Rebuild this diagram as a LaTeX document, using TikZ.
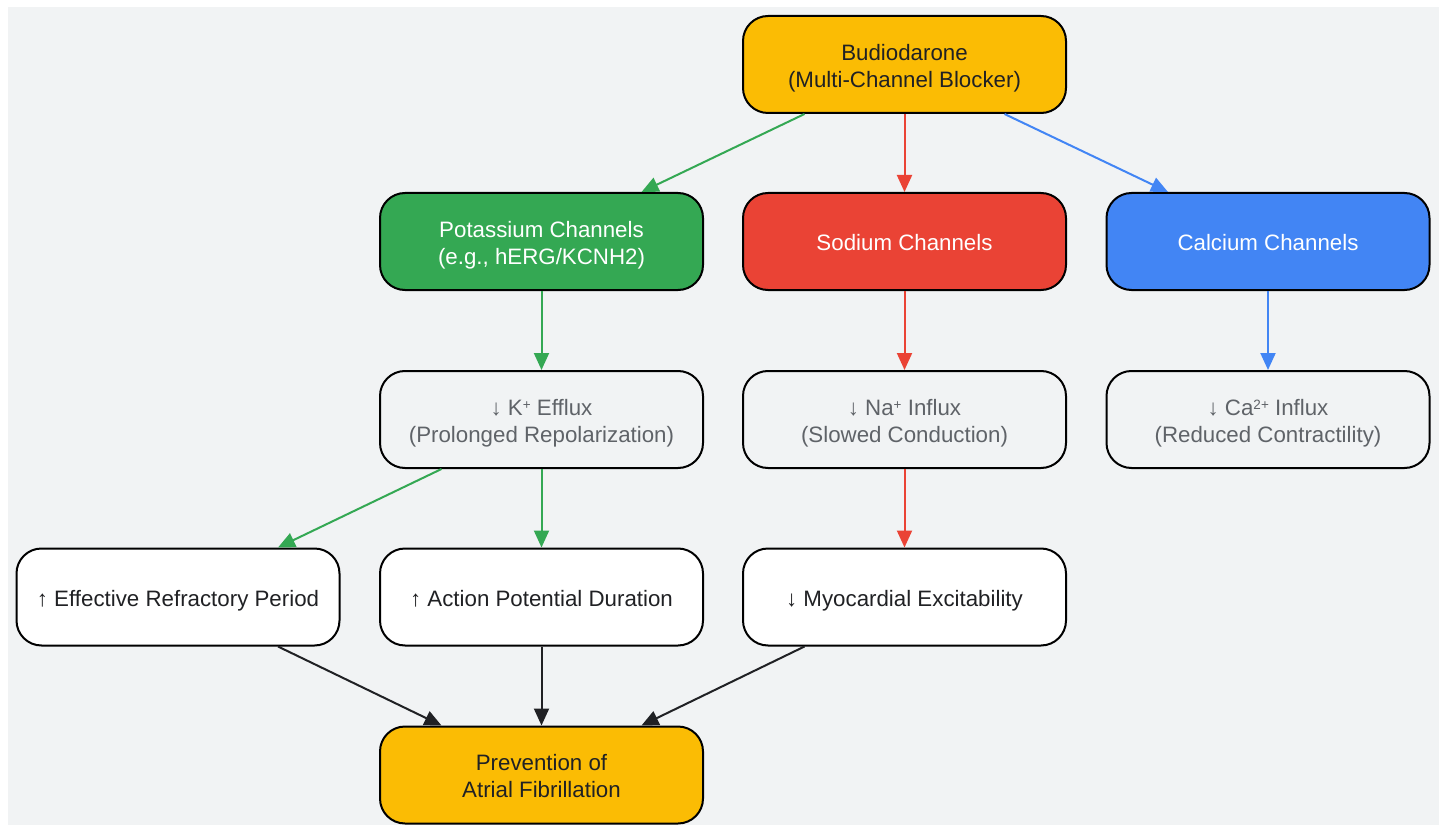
\documentclass[tikz,border=0pt]{standalone}
\usepackage{fontspec}
\setmainfont{Liberation Sans}
\usetikzlibrary{arrows.meta}
\definecolor{bgc}{HTML}{F1F3F4}
\definecolor{yel}{HTML}{FBBC04}
\definecolor{grn}{HTML}{34A853}
\definecolor{rd}{HTML}{EA4335}
\definecolor{blu}{HTML}{4285F4}
\definecolor{txt}{HTML}{202124}
\definecolor{gtxt}{HTML}{5F6368}
\tikzset{
  box/.style={rectangle, rounded corners=25pt, minimum width=323pt, minimum height=97pt,
    draw=black, line width=2pt, inner sep=0pt,
    font=\fontsize{22.3}{27}\selectfont, text=txt},
  yelbox/.style={box, fill=yel},
  grnbox/.style={box, fill=grn, text=white},
  rdbox/.style={box, fill=rd, text=white},
  blubox/.style={box, fill=blu, text=white},
  graybox/.style={box, fill=bgc, text=gtxt},
  whitebox/.style={box, fill=white},
  conn/.style={line width=2pt, -{Triangle[length=17pt,width=15pt]}},
  gconn/.style={conn, draw=grn, fill=grn},
  rconn/.style={conn, draw=rd, fill=rd},
  bconn/.style={conn, draw=blu, fill=blu},
  kconn/.style={conn, draw=txt, fill=txt},
}
\newcommand{\sps}[1]{{\fontsize{13.5}{13.5}\selectfont\raisebox{6.3pt}{#1}}}
\newcommand{\btext}[1]{\raisebox{0pt}[\height][\dimexpr\depth-8pt\relax]{\begin{tabular}{@{}c@{}}#1\end{tabular}}}
\begin{document}
\begin{tikzpicture}[x=1pt,y=-1pt]
\useasboundingbox (0,0) rectangle (1445,826);
\fill[bgc] (8,7) rectangle (1439,825);

\node[yelbox] (b) at (904.5,64.5) {\btext{Budiodarone\\(Multi-Channel Blocker)}};
\node[grnbox] (k) at (541.5,241.5) {\btext{Potassium Channels\\(e.g., hERG/KCNH2)}};
\node[rdbox] (na) at (904.5,241.5) {\btext{Sodium Channels}};
\node[blubox] (ca) at (1268,241.5) {\btext{Calcium Channels}};
\node[graybox] (ke) at (541.5,419.5) {\btext{↓ K\sps{+} Efflux\\(Prolonged Repolarization)}};
\node[graybox] (ni) at (904.5,419.5) {\btext{↓ Na\sps{+} Influx\\(Slowed Conduction)}};
\node[graybox] (ci) at (1268,419.5) {\btext{↓ Ca\sps{2+} Influx\\(Reduced Contractility)}};
\node[whitebox] (erp) at (178,597) {\btext{↑ Effective Refractory Period}};
\node[whitebox] (apd) at (541.5,597) {\btext{↑ Action Potential Duration}};
\node[whitebox] (myo) at (904.5,597) {\btext{↓ Myocardial Excitability}};
\node[yelbox] (prev) at (541.5,775) {\btext{Prevention of\\Atrial Fibrillation}};

\draw[gconn] ([xshift=-100pt]b.south) -- ([xshift=100pt]k.north);
\draw[rconn] (b.south) -- (na.north);
\draw[bconn] ([xshift=100pt]b.south) -- ([xshift=-100pt]ca.north);
\draw[gconn] (k.south) -- (ke.north);
\draw[rconn] (na.south) -- (ni.north);
\draw[bconn] (ca.south) -- (ci.north);
\draw[gconn] ([xshift=-100pt]ke.south) -- ([xshift=100pt]erp.north);
\draw[gconn] (ke.south) -- (apd.north);
\draw[rconn] (ni.south) -- (myo.north);
\draw[kconn] ([xshift=100pt]erp.south) -- ([xshift=-100pt]prev.north);
\draw[kconn] (apd.south) -- (prev.north);
\draw[kconn] ([xshift=-100pt]myo.south) -- ([xshift=100pt]prev.north);
\end{tikzpicture}
\end{document}
